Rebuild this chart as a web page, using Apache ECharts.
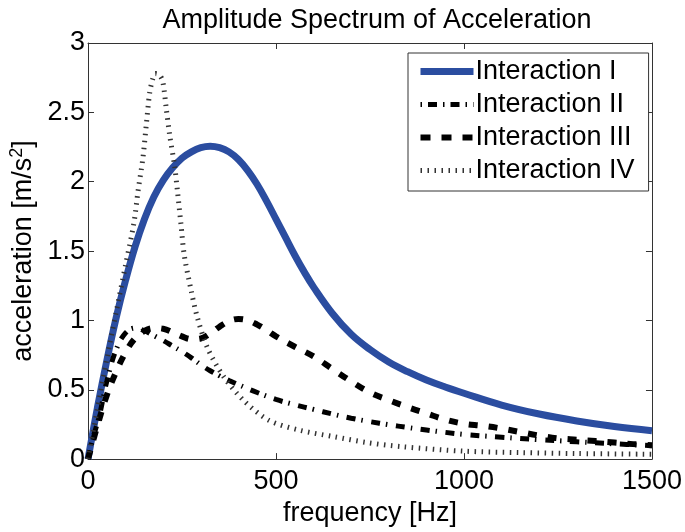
<!DOCTYPE html>
<html>
<head>
<meta charset="utf-8">
<script src="https://cdn.jsdelivr.net/npm/echarts@6/dist/echarts.min.js"></script>
<style>
html,body{margin:0;padding:0;background:#fff;}
#chart{width:685px;height:532px;}
</style>
</head>
<body>
<div id="chart"></div>
<script>
// Data
var titleText = 'Amplitude Spectrum of Acceleration';
var seriesNames = ['Interaction I', 'Interaction II', 'Interaction III', 'Interaction IV'];
var xTicks = [0, 500, 1000, 1500];
var yTicks = [0, 0.5, 1, 1.5, 2, 2.5, 3];

var freqI = [0,25,50,75,100,125,150,175,200,225,250,275,300,325,350,375,400,425,450,475,500,525,550,575,600,650,700,750,800,850,900,950,1000,1100,1200,1300,1400,1500];
var valI  = [0,0.37,0.71,1.02,1.29,1.53,1.73,1.89,2.01,2.10,2.17,2.215,2.245,2.255,2.245,2.215,2.16,2.08,1.98,1.86,1.73,1.60,1.47,1.35,1.24,1.05,0.90,0.79,0.70,0.63,0.57,0.52,0.475,0.39,0.325,0.275,0.235,0.205];

var freqII = [0,12,30,50,75,100,125,150,175,200,225,250,275,300,325,350,375,400,450,500,550,600,650,700,750,800,850,900,950,1000,1100,1200,1300,1400,1500];
var valII  = [0,0.14,0.31,0.56,0.79,0.91,0.945,0.925,0.89,0.855,0.815,0.775,0.73,0.68,0.637,0.60,0.567,0.537,0.48,0.43,0.392,0.358,0.325,0.295,0.27,0.248,0.228,0.21,0.193,0.178,0.158,0.14,0.125,0.11,0.097];

var freqIII = [0,25,50,75,100,125,150,175,200,225,250,275,300,325,350,375,400,425,450,475,500,550,600,650,700,750,800,850,900,950,1000,1050,1100,1150,1200,1250,1300,1350,1400,1450,1500];
var valIII  = [0,0.24,0.46,0.63,0.77,0.87,0.925,0.945,0.94,0.915,0.885,0.865,0.87,0.905,0.955,0.995,1.01,1.0,0.97,0.93,0.885,0.81,0.74,0.65,0.56,0.48,0.425,0.375,0.33,0.285,0.255,0.24,0.22,0.195,0.17,0.15,0.14,0.13,0.12,0.108,0.10];

var freqIV = [0,25,50,75,100,122,133,146,155,164,172,179,190,199,208,217,230,238,247,256,274,291,318,362,415,481,560,657,740,833,1000,1150,1300,1500];
var valIV  = [0,0.36,0.72,1.06,1.40,1.70,1.93,2.17,2.41,2.64,2.74,2.78,2.77,2.72,2.53,2.34,2.12,1.93,1.70,1.47,1.22,1.02,0.80,0.59,0.42,0.28,0.21,0.16,0.12,0.09,0.057,0.047,0.04,0.035];

function pairs(fs, vs) { return fs.map(function (f, i) { return [f, vs[i]]; }); }

var FONT = '"Liberation Sans", Arial, Helvetica, sans-serif';
var chart = echarts.init(document.getElementById('chart'));

var styles = [
  { color: '#2b4da0', width: 7, type: 'solid', cap: 'butt' },
  { color: '#000', width: 5, type: [9, 6, 1.5, 8.5], cap: 'butt' },
  { color: '#000', width: 6, type: [9, 11], cap: 'butt' },
  { color: '#333', width: 5, type: [1.5, 5.5], cap: 'butt' }
];
var legendStyles = [
  { color: '#2b4da0', width: 7, type: 'solid', cap: 'butt' },
  { color: '#000', width: 5, type: [1.5, 6, 9, 6], cap: 'butt' },
  { color: '#000', width: 6, type: [10, 11], cap: 'butt' },
  { color: '#333', width: 5, type: [1.5, 5.5], cap: 'butt' }
];

var axisLineStyle = { color: '#333', width: 1 };
function xAx(pos, showLabel) {
  return {
    type: 'value', position: pos, min: xTicks[0], max: xTicks[xTicks.length - 1], interval: 500,
    name: showLabel ? 'frequency [Hz]' : '', nameLocation: 'middle', nameGap: 36,
    nameTextStyle: { fontFamily: FONT, fontSize: 27, color: '#000', lineHeight: 27 },
    axisLine: { show: true, onZero: false, lineStyle: axisLineStyle },
    axisTick: { show: true, inside: true, length: 6, lineStyle: axisLineStyle },
    axisLabel: { show: showLabel, margin: 9, fontFamily: FONT, fontSize: 27, color: '#000',
      formatter: function (v) { return String(v); } },
    splitLine: { show: false }
  };
}
function yAx(pos, showLabel) {
  return {
    type: 'value', position: pos, min: yTicks[0], max: yTicks[yTicks.length - 1], interval: 0.5,
    name: showLabel ? '{a|acceleration [m/s}{b|2}{a|]}' : '', nameLocation: 'middle', nameGap: 46,
    nameTextStyle: { fontFamily: FONT, fontSize: 27, color: '#000',
      rich: { a: { fontFamily: FONT, fontSize: 27, color: '#000', lineHeight: 30 },
              b: { fontFamily: FONT, fontSize: 18, color: '#000', verticalAlign: 'top', lineHeight: 30 } } },
    axisLine: { show: true, onZero: false, lineStyle: axisLineStyle },
    axisTick: { show: true, inside: true, length: 6, lineStyle: axisLineStyle },
    axisLabel: { show: showLabel, margin: 3, fontFamily: FONT, fontSize: 27, color: '#000',
      formatter: function (v) { return String(v); } },
    splitLine: { show: false }
  };
}

var option = {
  animation: false,
  backgroundColor: '#fff',
  title: {
    text: titleText, left: 372, top: 2, textAlign: 'center',
    textStyle: { fontFamily: FONT, fontSize: 27, fontWeight: 'normal', color: '#000' }
  },
  grid: { left: 88, right: 29, top: 43, bottom: 66, containLabel: false },
  legend: {
    orient: 'vertical', left: 408, top: 53,
    padding: [5, 14, 7, 9], itemGap: 6, itemWidth: 53, itemHeight: 14,
    borderColor: '#333', borderWidth: 1, backgroundColor: '#fff',
    itemStyle: { opacity: 0 },
    textStyle: { fontFamily: FONT, fontSize: 27, color: '#000', lineHeight: 27, padding: [0, 0, 0, -3] },
    data: seriesNames.map(function (n, i) {
      return { name: n, lineStyle: legendStyles[i], itemStyle: { opacity: 0 } };
    })
  },
  xAxis: [xAx('bottom', true), xAx('top', false)],
  yAxis: [yAx('left', true), yAx('right', false)],
  series: [
    { name: seriesNames[0], type: 'line', data: pairs(freqI, valI), smooth: 0.4, showSymbol: false, symbol: 'none',
      lineStyle: styles[0], itemStyle: { color: styles[0].color } },
    { name: seriesNames[1], type: 'line', data: pairs(freqII, valII), smooth: 0.4, showSymbol: false, symbol: 'none',
      lineStyle: styles[1], itemStyle: { color: styles[1].color } },
    { name: seriesNames[2], type: 'line', data: pairs(freqIII, valIII), smooth: 0.4, showSymbol: false, symbol: 'none',
      lineStyle: styles[2], itemStyle: { color: styles[2].color } },
    { name: seriesNames[3], type: 'line', data: pairs(freqIV, valIV), smooth: 0.3, showSymbol: false, symbol: 'none',
      lineStyle: styles[3], itemStyle: { color: styles[3].color } }
  ]
};
chart.setOption(option);
</script>
</body>
</html>
